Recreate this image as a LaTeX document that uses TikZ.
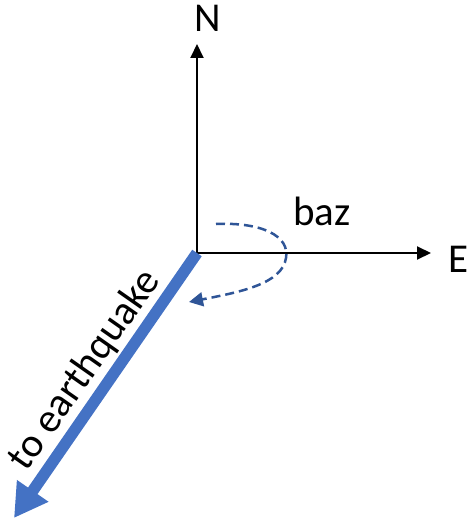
\documentclass[tikz,border=0pt]{standalone}
\usepackage{fontspec}
\setmainfont{Carlito}
\usetikzlibrary{arrows.meta}

\definecolor{quakeblue}{HTML}{4472C4}
\definecolor{bazclr}{HTML}{2F5597}

\tikzset{
  axislbl/.style={font=\fontsize{41}{41}\selectfont, inner sep=0pt},
  axisline/.style={draw=black, line width=2pt,
                   -{Triangle[length=14pt, width=13pt]}},
}

\begin{document}
\begin{tikzpicture}[x=1pt, y=-1pt]

\useasboundingbox (0,0) rectangle (469,519);

% ---- (1) origin and end points ---------------------------------
\coordinate (o) at (197,253);
\coordinate (n) at (197,44);
\coordinate (e) at (431,253);
\coordinate (q) at (14,518);

% ---- (2) N and E axes ------------------------------------------
\draw[axisline] (o) -- (n);
\draw[axisline] (o) -- (e);
\node[axislbl] (nlbl) at (208,18) {N};
\node[axislbl] (elbl) at (459,259) {E};

% ---- (3) back-azimuth, dashed sweep -----------------------------
\draw[draw=bazclr, line width=2.5pt, dash pattern=on 9pt off 5pt,
      -{Triangle[length=14pt, width=14pt]}]
   (216,224) .. controls (262,222) and (290,236) .. (286,258)
   .. controls (282,284) and (240,292) .. (189,302);
\node[axislbl] (bazlbl) at (322,211) {baz};

% ---- (4) direction to the event ---------------------------------
\draw[draw=quakeblue, line width=11.5pt,
      -{Triangle[length=33pt, width=36pt]}] (o) -- (q);
\node[axislbl, rotate=55] (qlbl) at (85,370) {to earthquake};

\end{tikzpicture}
\end{document}
